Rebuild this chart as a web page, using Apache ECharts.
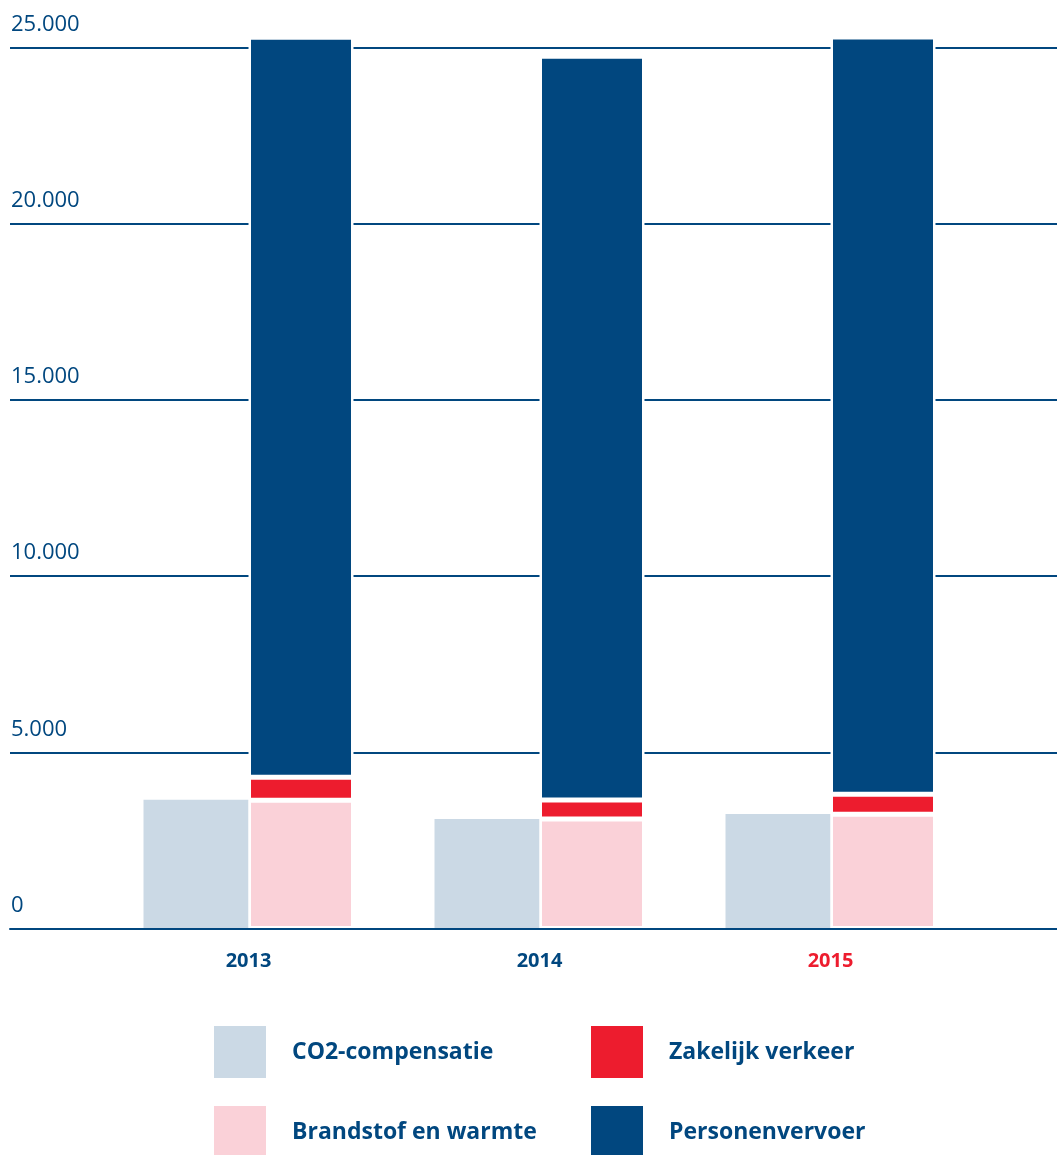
<!DOCTYPE html>
<html>
<head>
<meta charset="utf-8">
<script src="https://cdn.jsdelivr.net/npm/echarts@6/dist/echarts.min.js"></script>
<style>
html,body{margin:0;padding:0;background:#fff;}
#chart{width:1057px;height:1155px;}
</style>
</head>
<body>
<div id="chart"></div>
<script>
const years = ['2013', '2014', '2015'];
const co2Compensatie = [3650, 3110, 3250];
const brandstofWarmte = [3640, 3110, 3240];
const zakelijkVerkeer = [650, 535, 570];
const personenvervoer = [21000, 21110, 21490];
const yTicks = [0, 5000, 10000, 15000, 20000, 25000];

const NAVY = '#01477f';
const RED = '#ed1c2e';
const PINK = '#fad1d8';
const GREY = '#cbd9e5';
const FONT = '"Open Sans", "Noto Sans", sans-serif';

const chart = echarts.init(document.getElementById('chart'), null, {renderer: 'canvas'});

function legendItem(name, left, top) {
  return {
    data: [name], left: left, top: top, orient: 'horizontal', padding: 0,
    itemWidth: 52, itemHeight: 52, icon: 'rect', selectedMode: false,
    itemStyle: {borderWidth: 0},
    textStyle: {color: NAVY, fontSize: 23, fontWeight: 'bold', fontFamily: FONT, padding: [0, 0, 0, 21]}
  };
}

chart.setOption({
  animation: false,
  grid: [
    {left: 10, right: 0, top: 47.5, bottom: 226.5},
    {left: 103, width: 873, top: 47.5, bottom: 226.5}
  ],
  xAxis: [
    {
      gridIndex: 0, type: 'value', min: 0, max: 1, z: 10,
      axisLine: {show: true, lineStyle: {color: NAVY, width: 2}},
      axisTick: {show: false}, axisLabel: {show: false}, splitLine: {show: false}
    },
    {
      gridIndex: 1, type: 'category', data: years,
      axisLine: {show: false}, axisTick: {show: false},
      axisLabel: {
        margin: 23, fontSize: 20, fontWeight: 'bold', fontFamily: FONT,
        color: function (v) { return v === '2015' ? RED : NAVY; }
      }
    }
  ],
  yAxis: [
    {
      gridIndex: 0, type: 'value', min: yTicks[0], max: yTicks[yTicks.length - 1], interval: 5000,
      axisLine: {show: false}, axisTick: {show: false},
      splitLine: {show: true, lineStyle: {color: NAVY, width: 2}},
      axisLabel: {
        inside: true, margin: 1, align: 'left', verticalAlign: 'bottom',
        padding: [0, 0, 12, 0],
        fontSize: 22, fontFamily: FONT, color: NAVY,
        formatter: function (v) { return v.toString().replace(/\B(?=(\d{3})+(?!\d))/g, '.'); }
      }
    },
    {gridIndex: 1, type: 'value', min: 0, max: 25000, interval: 5000, show: false, splitLine: {show: false}}
  ],
  legend: [
    legendItem('CO2-compensatie', 214, 1026),
    legendItem('Zakelijk verkeer', 591, 1026),
    legendItem('Brandstof en warmte', 214, 1106),
    legendItem('Personenvervoer', 591, 1106)
  ],
  series: [
    {
      name: 'CO2-compensatie', type: 'bar', xAxisIndex: 1, yAxisIndex: 1,
      data: co2Compensatie, barWidth: 105, barGap: '0%', clip: false,
      itemStyle: {color: GREY}
    },
    {
      name: 'Brandstof en warmte', type: 'bar', stack: 'total', xAxisIndex: 1, yAxisIndex: 1,
      data: brandstofWarmte, barWidth: 105, barGap: '0%', clip: false,
      itemStyle: {color: PINK, borderColor: '#fff', borderWidth: 2.5}
    },
    {
      name: 'Zakelijk verkeer', type: 'bar', stack: 'total', xAxisIndex: 1, yAxisIndex: 1,
      data: zakelijkVerkeer, barWidth: 105, barGap: '0%', clip: false,
      itemStyle: {color: RED, borderColor: '#fff', borderWidth: 2.5}
    },
    {
      name: 'Personenvervoer', type: 'bar', stack: 'total', xAxisIndex: 1, yAxisIndex: 1,
      data: personenvervoer, barWidth: 105, barGap: '0%', clip: false,
      itemStyle: {color: NAVY, borderColor: '#fff', borderWidth: 2.5}
    }
  ]
});
</script>
</body>
</html>
